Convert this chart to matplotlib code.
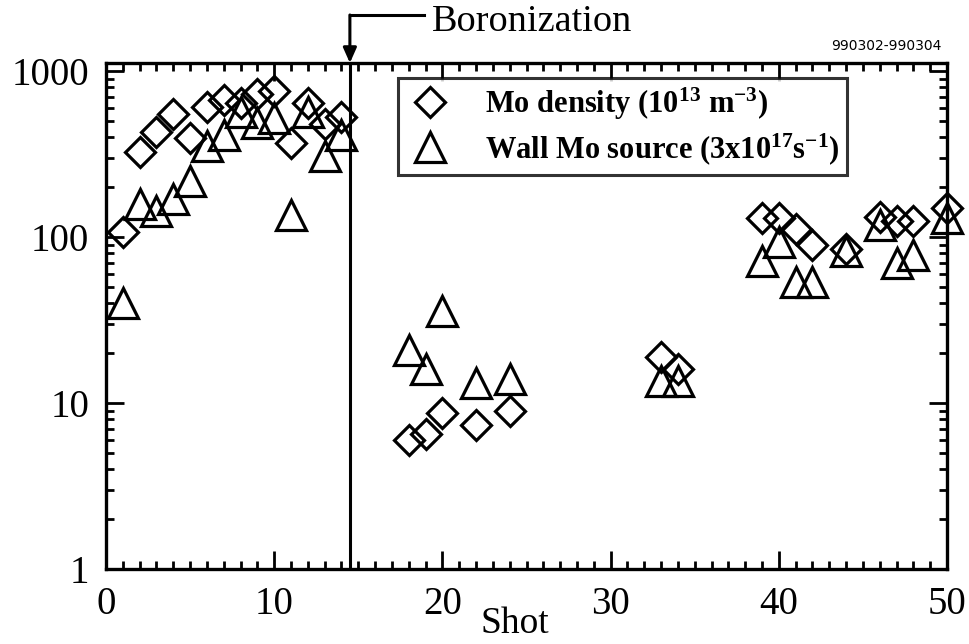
import matplotlib
matplotlib.use("Agg")
import matplotlib.pyplot as plt
from matplotlib.ticker import FixedLocator, LogLocator, MultipleLocator, FuncFormatter, NullFormatter
from matplotlib.lines import Line2D

plt.rcParams['font.family'] = ['Liberation Serif', 'DejaVu Serif']
plt.rcParams['mathtext.fontset'] = 'custom'
plt.rcParams['mathtext.rm'] = 'Liberation Serif:bold'
plt.rcParams['mathtext.it'] = 'Liberation Serif:bold'
plt.rcParams['mathtext.bf'] = 'Liberation Serif:bold'

# Data
density_shot = [1, 2, 3, 4, 5, 6, 7, 8, 9, 10, 11, 12, 13, 14,
                18, 19, 20, 22, 24, 33, 34,
                39, 40, 41, 42, 44, 46, 47, 48, 50]
density_val = [108, 325, 430, 550, 395, 610, 670, 640, 730, 760, 370, 640, 480, 530,
               6.0, 6.5, 8.7, 7.4, 9.0, 19, 16,
               130, 130, 112, 90, 85, 133, 125, 125, 150]
source_shot = [1, 2, 3, 4, 5, 6, 7, 8, 9, 10, 11, 12, 13, 14,
               18, 19, 20, 22, 24, 33, 34,
               39, 40, 41, 42, 44, 46, 47, 48, 50]
source_val = [40, 158, 143, 170, 218, 355, 410, 570, 490, 525, 135, 570, 310, 410,
              21, 16, 36, 13.2, 14, 13.6, 13.6,
              72, 94, 54, 54, 82, 118, 70, 78, 130]
y_ticks = [1, 10, 100, 1000]
y_tick_labels = ["1", "10", "100", "1000"]
x_ticks = [0, 10, 20, 30, 40, 50]
boronization_shot = 14.5
legend_labels = [r"Mo density (10$^{13}$ m$^{-3}$)",
                 r"Wall Mo source (3x10$^{17}$s$^{-1}$)"]

W, H = 969, 644
fig = plt.figure(figsize=(W / 100, H / 100), dpi=100)
ax = fig.add_axes([106 / W, 1 - 569 / H, (947 - 106) / W, (569 - 63) / H])

ax.set_yscale('log')
ax.set_xlim(0, 50)
ax.set_ylim(1, 1120)

ax.plot(density_shot, density_val, linestyle='none', marker='D', markersize=15,
        markerfacecolor='none', markeredgecolor='black', markeredgewidth=2.3, clip_on=False)
ax.plot(source_shot, source_val, linestyle='none', marker='^', markersize=22,
        markerfacecolor='none', markeredgecolor='black', markeredgewidth=2.3, clip_on=False)

ax.axvline(boronization_shot, color='black', lw=2.2)

for s in ax.spines.values():
    s.set_linewidth(2.4)

ax.xaxis.set_major_locator(FixedLocator(x_ticks))
ax.xaxis.set_minor_locator(MultipleLocator(1))
ax.yaxis.set_major_locator(FixedLocator(y_ticks))
ax.yaxis.set_minor_locator(LogLocator(base=10, subs=range(2, 10)))
ax.yaxis.set_major_formatter(FuncFormatter(lambda v, p: y_tick_labels[y_ticks.index(round(v))] if round(v) in y_ticks else ""))
ax.yaxis.set_minor_formatter(NullFormatter())

ax.tick_params(which='both', direction='in', top=True, right=True, width=2, colors='black')
ax.tick_params(which='major', length=13, labelsize=28, pad=12)
ax.tick_params(which='minor', length=6)

fig.text(515 / W, 1 - 624 / H, "Shot", ha='center', va='center', fontsize=27)

# Boronization annotation
yt = 1 - 15 / H
ax_top = 1 - 63 / H
xb = ax.transData.transform((boronization_shot, 1))[0] / W
fig.add_artist(Line2D([xb, 424 / W], [yt, yt], color='black', lw=2.2, transform=fig.transFigure))
ax.annotate('', xy=(xb, ax_top), xycoords='figure fraction', xytext=(xb, yt), textcoords='figure fraction',
            arrowprops=dict(arrowstyle='-|>,head_length=0.9,head_width=0.4', color='black', lw=2.2,
                            shrinkA=0, shrinkB=0))
fig.text(432 / W, 1 - 22 / H, "Boronization", ha='left', va='center', fontsize=27.5)

fig.text(942 / W, 1 - 46 / H, "990302-990304", ha='right', va='center', fontsize=10,
         family=['DejaVu Sans'])

# Legend
handles = [Line2D([], [], linestyle='none', marker='D', markersize=15, markerfacecolor='none',
                  markeredgecolor='black', markeredgewidth=2.3),
           Line2D([], [], linestyle='none', marker='^', markersize=22, markerfacecolor='none',
                  markeredgecolor='black', markeredgewidth=2.3)]
leg = ax.legend(handles, legend_labels, loc='upper left', bbox_to_anchor=(0.347, 0.970),
                prop={'weight': 'bold', 'size': 22}, frameon=True, fancybox=False,
                edgecolor='black', borderpad=0.25, handletextpad=1.0, labelspacing=0.3,
                handlelength=1.6, borderaxespad=0)
leg.get_frame().set_linewidth(2.2)

fig.savefig("out.png", dpi=100)
